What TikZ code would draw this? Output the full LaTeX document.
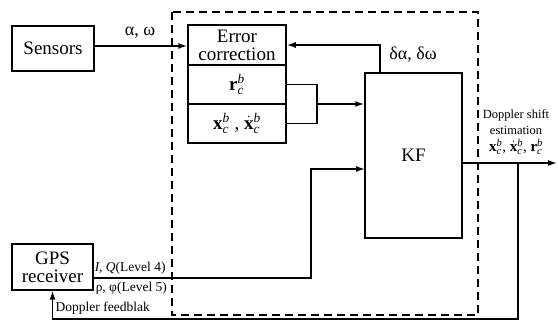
\documentclass[tikz,border=0pt]{standalone}
\usepackage{fontspec}
\setmainfont{Liberation Serif}
\usetikzlibrary{arrows.meta,calc}
\newcommand{\vecb}[1]{$\mathbf{#1}^{\mathit{b}}_{\mathit{c}}$}
\newcommand{\vecdb}[1]{$\dot{\mathbf{#1}}^{\mathit{b}}_{\mathit{c}}$}
\begin{document}
\begin{tikzpicture}[x=1pt,y=-1pt,
  line width=1.5pt,
  box/.style={draw,rectangle,inner sep=0pt,align=center,font=\fontsize{19}{18}\selectfont},
  arr/.style={-{Latex[length=9pt,width=6pt]}},
  lbl/.style={inner sep=0pt,font=\fontsize{18}{20}\selectfont},
  small/.style={inner sep=0pt,font=\fontsize{13.5}{15}\selectfont},
  tiny/.style={inner sep=0pt,font=\fontsize{12.5}{14}\selectfont}]
\useasboundingbox (0,0) rectangle (558,320);
% dashed frame
\draw[dash pattern=on 8pt off 5pt] (172,12) rectangle (478,315);
% boxes
\node[box,minimum width=82pt,minimum height=45pt] (sensors) at (53,48.5) {Sensors};
\node[box,minimum width=98pt,minimum height=40pt] (ec) at (237,45) {Error\\correction};
\node[box,minimum width=98pt,minimum height=39pt] (r) at (237,84.5) {\vecb{r}};
\node[box,minimum width=98pt,minimum height=39pt] (xx) at (237,123.5) {\vecb{x} , \vecdb{x}};
\node[box,minimum width=97pt,minimum height=165pt] (kf) at (413.5,155.5) {KF};
\node[box,minimum width=81pt,minimum height=46pt] (gps) at (52.5,267) {GPS\\receiver};
% coordinates
\coordinate (br) at (317,104);
\coordinate (fbk) at (380,73);
\coordinate (g1) at (311,278);
\coordinate (kin) at (365,169);
\coordinate (out) at (557,163);
\coordinate (fb) at (518,163);
\coordinate (fbb) at (518,319);
% connectors
\draw[arr] (sensors.east |- 0,46) -- (ec.west |- 0,46);
\draw[arr] (fbk) |- (ec.east);
\draw (r.east) -| (br) |- (xx.east);
\draw[arr] (br) -- (br -| kf.west);
\draw[arr] (gps.east |- g1) -- (g1) |- (kin);
\draw[arr] (kf.east |- out) -- (out);
\draw[arr] (fb) -- (fbb) -| (gps.south);
% labels
\node[lbl] (la) at (140,33) {α, ω};
\node[lbl] (ld) at (413,55) {δα, δω};
\node[small,anchor=west] (liq) at (94,268) {\textit{I}, \textit{Q}(Level 4)};
\node[small,anchor=west] (lrp) at (95,288) {ρ, φ(Level 5)};
\node[small,anchor=west] (ldf) at (55,308) {Doppler feedblak};
\node[tiny] (lds) at (516,115) {Doppler shift};
\node[tiny] (les) at (516,130) {estimation};
\node[inner sep=0pt,font=\fontsize{15}{16}\selectfont] (lv) at (516,147) {\vecb{x}, \vecdb{x}, \vecb{r}};
\end{tikzpicture}
\end{document}
